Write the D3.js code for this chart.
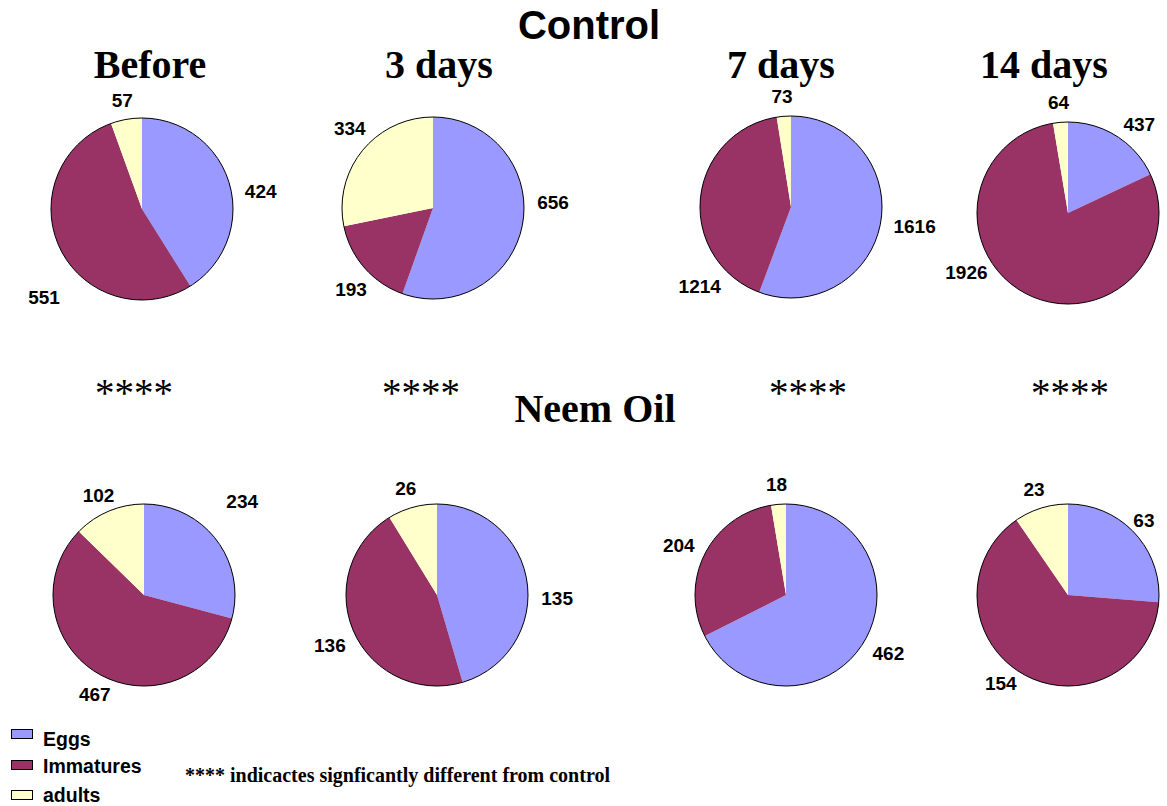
<!DOCTYPE html>
<html><head><meta charset="utf-8">
<script src="https://cdn.jsdelivr.net/npm/d3@7"></script>
<style>body{margin:0;background:#fff;} svg{display:block;}</style>
</head><body>
<script>
// ---- data ----
const categories = ["Eggs", "Immatures", "adults"];
const periods = ["Before", "3 days", "7 days", "14 days"];
const controlEggs = [424, 656, 1616, 437];
const controlImmatures = [551, 193, 1214, 1926];
const controlAdults = [57, 334, 73, 64];
const neemEggs = [234, 135, 462, 63];
const neemImmatures = [467, 136, 204, 154];
const neemAdults = [102, 26, 18, 23];
const significance = ["****", "****", "****", "****"];

// ---- layout ----
const W = 1167, H = 806, R = 91;
const colors = d3.scaleOrdinal().domain(categories).range(["#9999FF", "#993366", "#FFFFCC"]);
// label placement tweaks [angle degrees, extra radius] to mimic the original label placement
const rows = [
  {name: "Control", vals: [controlEggs, controlImmatures, controlAdults], cx: [142, 433, 791, 1068], cy: [209, 208, 207, 213],
   nudge: {"0-0": [7, 0], "0-1": [-18, 16], "1-0": [-13, 0], "1-1": [-6, 0], "1-2": [7, 0], "2-1": [-50, 2], "3-0": [4, 0], "3-1": [29, -4]}},
  {name: "Neem Oil", vals: [neemEggs, neemImmatures, neemAdults], cx: [144, 437, 786, 1068], cy: [595, 595, 595, 595],
   nudge: {"0-0": [-8, 20], "0-1": [-5, -2], "0-2": [0, -3], "1-0": [10, 0], "1-1": [-3, 0], "3-0": [-3, -6], "3-1": [5, -3]}}
];
const titleX = [150, 439, 781, 1044];
const starX = [134, 421, 808, 1070];
const SANS = "Liberation Sans, Arial, sans-serif";
const SERIF = "Liberation Serif, Times New Roman, serif";

const svg = d3.select("body").append("svg").attr("width", W).attr("height", H);

const pie = d3.pie().sort(null).value(d => d.v);
const arc = d3.arc().innerRadius(0).outerRadius(R);

svg.append("text").attr("x", 589).attr("y", 39).attr("text-anchor", "middle")
  .attr("font-family", SANS).attr("font-weight", "bold").attr("font-size", 40).text("Control");
svg.append("text").attr("x", 595).attr("y", 422).attr("text-anchor", "middle")
  .attr("font-family", SERIF).attr("font-weight", "bold").attr("font-size", 40).text("Neem Oil");

periods.forEach((p, i) => {
  svg.append("text").attr("x", titleX[i]).attr("y", 78).attr("text-anchor", "middle")
    .attr("font-family", SERIF).attr("font-weight", "bold").attr("font-size", 40).text(p);
  svg.append("text").attr("x", starX[i]).attr("y", 406).attr("text-anchor", "middle")
    .attr("font-family", SERIF).attr("font-size", 39).text(significance[i]);
});

rows.forEach(row => {
  periods.forEach((p, i) => {
    const data = categories.map((c, k) => ({c, v: row.vals[k][i]}));
    const g = svg.append("g").attr("transform", `translate(${row.cx[i]},${row.cy[i]})`);
    const arcs = pie(data);
    g.selectAll("path").data(arcs).join("path").attr("d", arc).attr("fill", d => colors(d.data.c));
    g.append("circle").attr("r", R).attr("fill", "none").attr("stroke", "#000").attr("stroke-width", 1);
    arcs.forEach((a, k) => {
      let mid = (a.startAngle + a.endAngle) / 2;
      const n = row.nudge[i + "-" + k] || [0, 0];
      mid += n[0] * Math.PI / 180;
      const dx = Math.sin(mid), dy = -Math.cos(mid);
      const label = String(a.data.v);
      const w = label.length * 10.8, h = 14;
      const x = dx * (R + 13 + n[1]) + dx * w / 2;
      const y = dy * (R + 13 + n[1]) + dy * h / 2;
      g.append("text").attr("x", x).attr("y", y).attr("dy", "0.36em").attr("text-anchor", "middle")
        .attr("font-family", SANS).attr("font-weight", "bold").attr("font-size", 19).text(label);
    });
  });
});

// legend
const leg = svg.append("g");
const legY = [734, 765, 795];
const legBase = [746, 773, 802];
categories.forEach((c, k) => {
  leg.append("rect").attr("x", 11.5).attr("y", legY[k] - 4.5).attr("width", 21).attr("height", 9)
    .attr("fill", colors(c)).attr("stroke", "#000").attr("stroke-width", 1);
  leg.append("text").attr("x", 43).attr("y", legBase[k])
    .attr("font-family", SANS).attr("font-weight", "bold").attr("font-size", 19.5).text(c);
});
svg.append("text").attr("x", 185).attr("y", 782)
  .attr("font-family", SERIF).attr("font-weight", "bold").attr("font-size", 20)
  .text("**** indicactes signficantly different from control");
</script>
</body></html>
